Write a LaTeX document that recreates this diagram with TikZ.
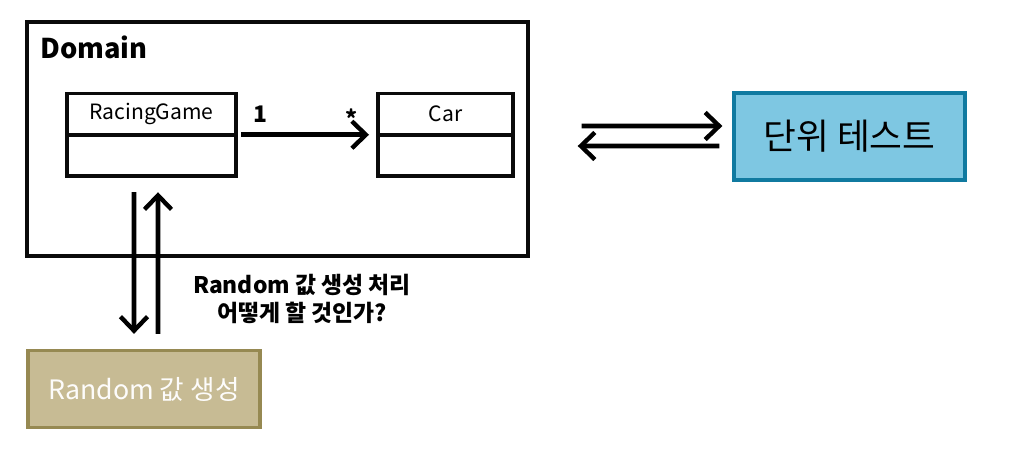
\documentclass[tikz,border=0pt]{standalone}
\usepackage{fontspec}
\setmainfont{Noto Sans CJK KR}
\usepackage{tikz}
\usetikzlibrary{arrows.meta,positioning}
\definecolor{framegray}{RGB}{10,10,10}
\definecolor{sandfill}{RGB}{199,187,148}
\definecolor{sanddraw}{RGB}{150,137,82}
\definecolor{skyfill}{RGB}{126,199,226}
\definecolor{skydraw}{RGB}{16,122,160}
\tikzset{
  frame/.style={draw=framegray,line width=2pt},
  compart/.style={frame,outer sep=0pt,minimum width=3.38cm,minimum height=0.83cm,inner sep=0pt,font=\fontsize{12}{14}\selectfont},
  carcompart/.style={compart,minimum width=2.7cm},
  extbox/.style={line width=1.9pt,inner sep=0pt,align=center},
  arr/.style={-{Straight Barb[length=2.8mm,width=5.4mm,line width=2.5pt]},draw=black,line width=2.6pt},
  bold/.style={font=\bfseries\fontsize{13}{15.5}\selectfont}
}
\begin{document}
\begin{tikzpicture}[x=0.02cm,y=-0.02cm]
  \useasboundingbox (0,0) rectangle (1022,457);

  % Domain frame
  \node[frame,minimum width=10.02cm,minimum height=4.68cm,inner sep=0pt] (domain) at (277.5,139) {};
  \node[anchor=north west,inner sep=0pt,font=\bfseries\fontsize{15.5}{17}\selectfont] (domlabel) at (40,36) {Domain};

  % classes
  \node[compart] (rgname) at (151.5,114) {RacingGame};
  \node[compart,below=0pt of rgname] (rgbody) {};
  \node[carcompart] (carname) at (445.5,114) {Car};
  \node[carcompart,below=0pt of carname] (carbody) {};

  \draw[arr] ([xshift=0.1cm]rgbody.north east) -- ([xshift=-0.18cm]carbody.north west);
  \node[bold] (mone) at (260,114) {1};
  \node[bold] (mmany) at (352,118) {*};

  % unit test
  \node[extbox,draw=skydraw,fill=skyfill,minimum width=4.62cm,minimum height=1.74cm,
        font=\fontsize{20.3}{23}\selectfont] (unittest) at (849.5,136.5) {단위 테스트};
  \draw[arr] ([xshift=1.04cm,yshift=0.26cm]domain.east) -- ([xshift=-0.2cm,yshift=0.21cm]unittest.west);
  \draw[arr] ([xshift=-0.26cm,yshift=-0.19cm]unittest.west) -- ([xshift=0.96cm,yshift=-0.14cm]domain.east);

  % random source
  \node[extbox,draw=sanddraw,fill=sandfill,text=white!96!sandfill,minimum width=4.64cm,minimum height=1.54cm,
        font=\fontsize{15.2}{17}\selectfont] (random) at (144,389) {Random 값 생성};
  \draw[arr] ([xshift=-0.35cm,yshift=-0.32cm]rgbody.south) -- ([xshift=-0.2cm,yshift=0.3cm]random.north);
  \draw[arr] ([xshift=0.28cm,yshift=0.3cm]random.north) -- ([xshift=0.13cm,yshift=-0.32cm]rgbody.south);
  \node[bold,align=center,inner sep=0pt] (question) at (302,299) {Random 값 생성 처리\\어떻게 할 것인가?};
\end{tikzpicture}
\end{document}
